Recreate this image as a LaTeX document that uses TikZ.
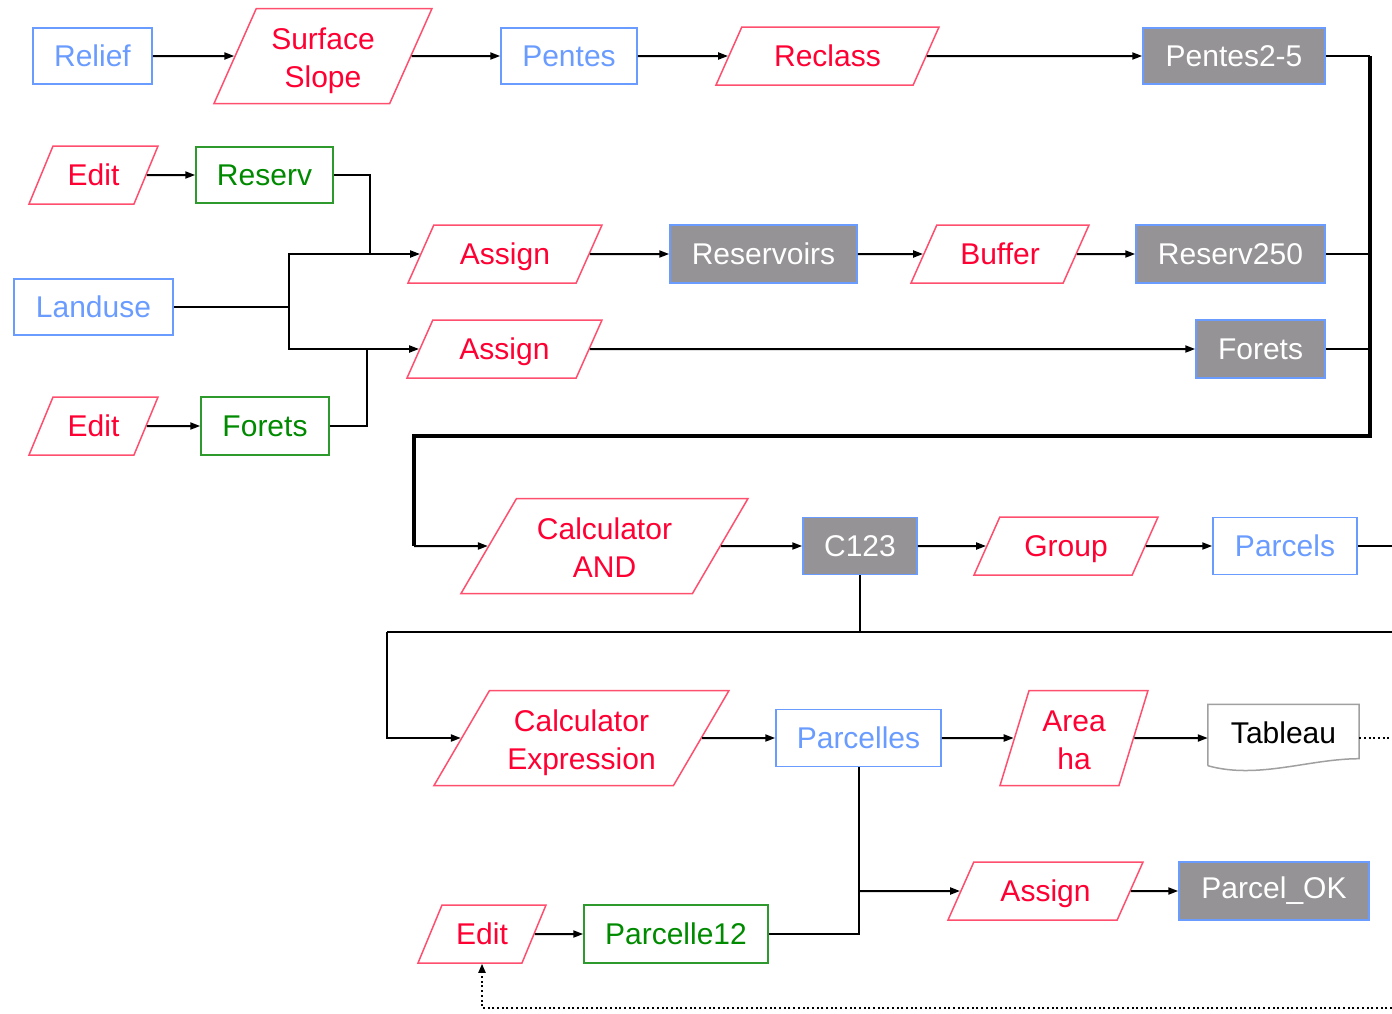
\documentclass[tikz,border=0pt]{standalone}
\usepackage{fontspec}
\setmainfont{Liberation Sans}
\usetikzlibrary{shapes.geometric,arrows.meta,calc}
\definecolor{blueC}{HTML}{6A9CFF}
\definecolor{redT}{HTML}{FF0033}
\definecolor{redB}{HTML}{FF4F6F}
\definecolor{greenT}{HTML}{008A00}
\definecolor{greenB}{HTML}{2E9A2E}
\definecolor{grayF}{HTML}{959395}
\definecolor{docB}{HTML}{A0A0A0}
\newcommand{\twolines}[2]{{\renewcommand{\arraystretch}{1}\begin{tabular}{@{}c@{}}#1\\#2\end{tabular}}}
\tikzset{
  base/.style={font=\fontsize{30}{38}\selectfont, inner sep=2pt, align=center},
  bluebox/.style={base, rectangle, draw=blueC, line width=1.5pt, text=blueC},
  greenbox/.style={base, rectangle, draw=greenB, line width=1.5pt, text=greenT},
  graybox/.style={base, rectangle, draw=blueC, fill=grayF, line width=1.5pt, text=white},
  pbase/.style={font=\fontsize{30}{38}\selectfont, inner xsep=2pt, trapezium,
    trapezium left angle=66, trapezium right angle=114,
    trapezium stretches body, draw=redB, line width=1.5pt, text=redT},
  slant/.style={trapezium left angle=#1, trapezium right angle=180-#1},
  procone/.style={pbase, text height=25pt, text depth=3.5pt, inner ysep=14.75pt, minimum height=58pt},
  proctwo/.style={pbase, text height=56.35pt, text depth=34.65pt, inner ysep=2pt, minimum height=95pt},
  docbox/.style={base, rectangle, text=black, text depth=10pt},
  docline/.style={draw=docB, line width=1.5pt},
  conn/.style={line width=2pt, draw=black},
  arr/.style={conn, -{Triangle[length=10pt,width=7pt]}},
  trunk/.style={line width=3.5pt, draw=black, line join=miter},
  dots/.style={line width=2pt, dash pattern=on 2pt off 2.7pt},
}
\begin{document}
\begin{tikzpicture}[x=1pt,y=-1pt]
\useasboundingbox (0,0) rectangle (1392,1013);

% nodes
\node[bluebox,minimum width=119pt,minimum height=56pt] (relief) at (92.5,56) {Relief};
\node[proctwo,minimum width=218pt] (slope) at (323,56) {\twolines{Surface}{Slope}};
\node[bluebox,minimum width=136pt,minimum height=56pt] (pentes) at (569,56) {Pentes};
\node[procone,minimum width=223pt] (reclass) at (827.5,56) {Reclass};
\node[graybox,minimum width=182pt,minimum height=56pt] (pentes25) at (1234,56) {Pentes2-5};
\node[procone,slant=67.5,minimum width=129pt] (edit1) at (93.5,175) {Edit};
\node[greenbox,minimum width=137pt,minimum height=56pt] (reserv) at (264.5,175) {Reserv};
\node[bluebox,minimum width=159pt,minimum height=56pt] (landuse) at (93.5,307) {Landuse};
\node[procone,minimum width=194pt] (assign1) at (505,254) {Assign};
\node[graybox,minimum width=187pt,minimum height=58pt] (reservoirs) at (763.5,254) {Reservoirs};
\node[procone,minimum width=178pt] (buffer) at (1000,254) {Buffer};
\node[graybox,minimum width=189pt,minimum height=58pt] (reserv250) at (1230.5,254) {Reserv250};
\node[procone,minimum width=195pt] (assign2) at (504.5,349) {Assign};
\node[graybox,minimum width=129pt,minimum height=58pt] (foretsR) at (1260.5,349) {Forets};
\node[procone,slant=67.5,minimum width=129pt] (edit2) at (93.5,426) {Edit};
\node[greenbox,minimum width=128pt,minimum height=58pt] (foretsG) at (265,426) {Forets};
\node[proctwo,slant=59.7,minimum width=287pt] (calcand) at (604.5,546) {\twolines{Calculator}{AND}};
\node[graybox,minimum width=114pt,minimum height=57pt] (c123) at (860,546) {C123};
\node[procone,minimum width=184pt] (group) at (1066,546) {Group};
\node[bluebox,minimum width=144pt,minimum height=57pt] (parcels) at (1285,546) {Parcels};
\node[proctwo,slant=59.7,minimum width=295pt] (calcexpr) at (581.5,738) {\twolines{Calculator}{Expression}};
\node[bluebox,minimum width=165pt,minimum height=57pt] (parcelles) at (858.5,738) {Parcelles};
\node[proctwo,slant=73,minimum width=148pt] (area) at (1074,738) {\twolines{Area}{ha}};
\node[docbox,minimum width=151pt,minimum height=67pt] (tableau) at (1283.5,738) {Tableau};
\node[procone,minimum width=195pt] (assign3) at (1045.5,891) {Assign};
\node[graybox,minimum width=190pt,minimum height=58pt] (parcelok) at (1274,891) {Parcel\_OK};
\node[procone,slant=67.5,minimum width=128pt] (edit3) at (482,934) {Edit};
\node[greenbox,minimum width=184pt,minimum height=58pt] (parcelle12) at (676,934) {Parcelle12};

% document outline of Tableau
\draw[docline] ($(tableau.south west)+(0,-6)$) -- (tableau.north west) -- (tableau.north east)
  -- ($(tableau.south east)+(0,-13)$)
  .. controls +(-50,0) and +(50,14) .. ($(tableau.south west)+(0,-6)$);

% junction coordinates
\coordinate (jr) at (370,254);
\coordinate (jl) at (289,307);
\coordinate (jf) at (367,349);
\coordinate (t1) at (1370,56);
\coordinate (t2) at (1370,436);
\coordinate (t3) at (414,436);
\coordinate (t4) at (414,546);
\coordinate (eP) at (1392,546);
\coordinate (b1) at (860,632);
\coordinate (bR) at (1392,632);
\coordinate (bL) at (387,632);
\coordinate (eT) at (1392,738);
\coordinate (jp) at (858.5,891);
\coordinate (dR) at (1392,1008);

% connectors row 1
\draw[arr] (relief) -- (slope);
\draw[arr] (slope) -- (pentes);
\draw[arr] (pentes) -- (reclass);
\draw[arr] (reclass) -- (pentes25);
% reservoirs / forets
\draw[arr] (edit1) -- (reserv);
\draw[conn] (reserv.east) -| (jr);
\draw[conn] (landuse.east) -- (jl);
\draw[arr] (jl) |- (assign1);
\draw[arr] (jl) |- (assign2);
\draw[arr] (edit2) -- (foretsG);
\draw[conn] (foretsG.east) -| (jf);
\draw[arr] (assign1) -- (reservoirs);
\draw[arr] (reservoirs) -- (buffer);
\draw[arr] (buffer) -- (reserv250);
\draw[arr] (assign2) -- (foretsR);
% trunk
\draw[conn] (pentes25.east) -- (t1);
\draw[conn] (reserv250.east) -- (reserv250.east -| t1);
\draw[conn] (foretsR.east) -- (foretsR.east -| t1);
\draw[trunk] (t1) -- (t2) -- (t3) -- (t4);
\draw[arr] (t4) -- (calcand);
% row C123
\draw[arr] (calcand) -- (c123);
\draw[arr] (c123) -- (group);
\draw[arr] (group) -- (parcels);
\draw[conn] (parcels.east) -- (eP);
\draw[conn] (c123.south) -- (b1);
\draw[conn] (bR) -- (bL);
\draw[arr] (bL) |- (calcexpr);
% row Parcelles
\draw[arr] (calcexpr) -- (parcelles);
\draw[arr] (parcelles) -- (area);
\draw[arr] (area) -- (tableau);
\draw[dots] (tableau.east) -- (eT);
\draw[conn] (parcelle12.east) -| (parcelles.south);
\draw[arr] (jp) -- (assign3);
\draw[arr] (assign3) -- (parcelok);
\draw[arr] (edit3) -- (parcelle12);
\draw[dots, -{Triangle[length=9pt,width=7pt]}] (dR) -| (edit3.south);
\end{tikzpicture}
\end{document}
